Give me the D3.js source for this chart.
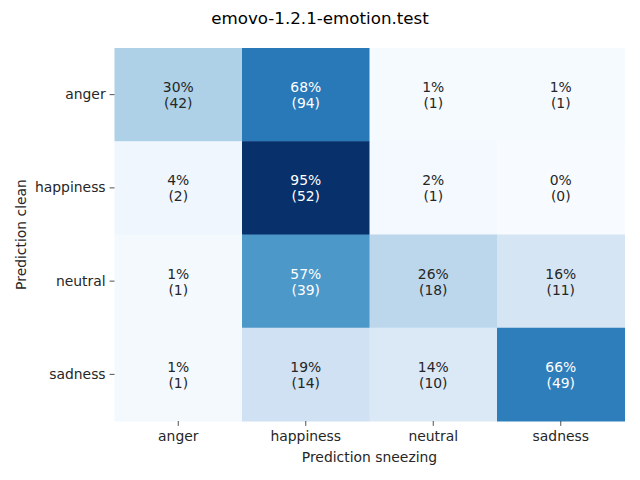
<!DOCTYPE html>
<html><head><meta charset="utf-8">
<script src="https://cdn.jsdelivr.net/npm/d3@7"></script>
<style>body{margin:0;background:#fff}svg{display:block}text{font-family:"DejaVu Sans",sans-serif}</style>
</head><body>
<script>
const title = "emovo-1.2.1-emotion.test";
const rowLabels = ["anger","happiness","neutral","sadness"];
const colLabels = ["anger","happiness","neutral","sadness"];
const countsAnger = [42,94,1,1];
const countsHappiness = [2,52,1,0];
const countsNeutral = [1,39,18,11];
const countsSadness = [1,14,10,49];
const counts = [countsAnger, countsHappiness, countsNeutral, countsSadness];
const xTitle = "Prediction sneezing";
const yTitle = "Prediction clean";

const W = 640, H = 480;
const m = {left:114.5, right:15.5, top:48, bottom:59};
const svg = d3.select("body").append("svg").attr("width",W).attr("height",H);

const cells = [];
counts.forEach((row,i)=>{
  const tot = d3.sum(row);
  row.forEach((c,j)=>cells.push({r:rowLabels[i], c:colLabels[j], n:c, p:c/tot}));
});
const vmax = d3.max(cells, d=>d.p), vmin = d3.min(cells, d=>d.p);
const x = d3.scaleBand().domain(colLabels).range([m.left, W-m.right]);
const y = d3.scaleBand().domain(rowLabels).range([m.top, H-m.bottom]);
const color = d3.scaleSequential(d3.interpolateBlues).domain([vmin, vmax]);

svg.append("g").selectAll("rect").data(cells).join("rect")
  .attr("x",d=>x(d.c)).attr("y",d=>y(d.r))
  .attr("width",x.bandwidth()+0.5).attr("height",y.bandwidth()+0.5)
  .attr("fill",d=>color(d.p));

function lum(c){
  const rgb = d3.rgb(c);
  const f = v=>{v/=255;return v<=0.03928? v/12.92 : Math.pow((v+0.055)/1.055,2.4);};
  return 0.2126*f(rgb.r)+0.7152*f(rgb.g)+0.0722*f(rgb.b);
}
const ann = svg.append("g").selectAll("text").data(cells).join("text")
  .attr("x",d=>x(d.c)+x.bandwidth()/2)
  .attr("y",d=>y(d.r)+y.bandwidth()/2)
  .attr("text-anchor","middle")
  .attr("font-size","13.9px")
  .attr("fill",d=>lum(color(d.p))>0.408?"#262626":"#ffffff");
ann.append("tspan").attr("x",d=>x(d.c)+x.bandwidth()/2).attr("dy","-0.18em").text(d=>Math.round(d.p*100)+"%");
ann.append("tspan").attr("x",d=>x(d.c)+x.bandwidth()/2).attr("dy","1.15em").text(d=>"("+d.n+")");

const xa = svg.append("g").attr("transform",`translate(0,${H-m.bottom})`)
  .call(d3.axisBottom(x).tickSize(4.9).tickPadding(5.5));
xa.select(".domain").remove();
xa.selectAll("line").attr("stroke","#262626").attr("stroke-width",0.8);
xa.selectAll("text").attr("font-size","13.9px").attr("fill","#262626").attr("font-family","DejaVu Sans");

const ya = svg.append("g").attr("transform",`translate(${m.left},0)`)
  .call(d3.axisLeft(y).tickSize(4.9).tickPadding(4));
ya.select(".domain").remove();
ya.selectAll("line").attr("stroke","#262626").attr("stroke-width",0.8);
ya.selectAll("text").attr("font-size","13.9px").attr("fill","#262626").attr("font-family","DejaVu Sans");

svg.append("text").attr("x",(m.left+W-m.right)/2).attr("y",462)
  .attr("text-anchor","middle").attr("font-size","13.9px").attr("fill","#262626").text(xTitle);
svg.append("text").attr("transform",`translate(26,${(m.top+H-m.bottom)/2}) rotate(-90)`)
  .attr("text-anchor","middle").attr("font-size","13.9px").attr("fill","#262626").text(yTitle);
svg.append("text").attr("x",W/2).attr("y",24)
  .attr("text-anchor","middle").attr("font-size","16.7px").attr("fill","#000").text(title);
</script>
</body></html>
